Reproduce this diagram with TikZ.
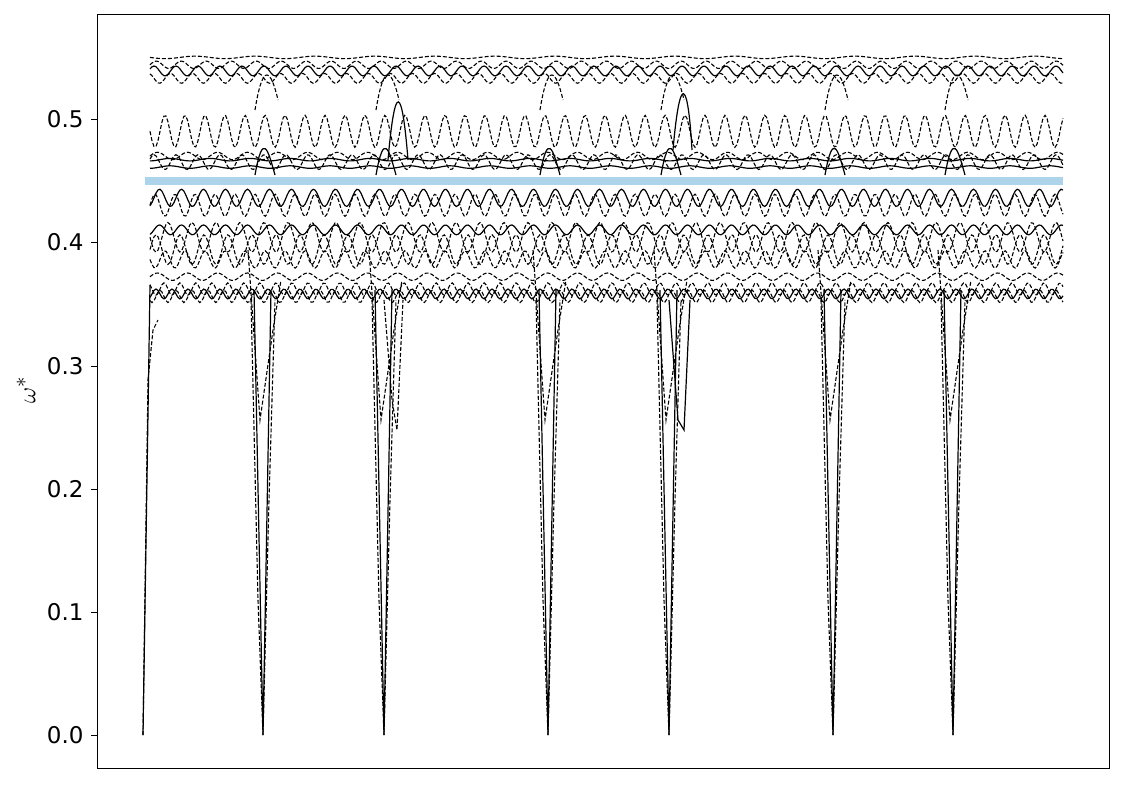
\documentclass[tikz,border=0pt]{standalone}
\usepackage{fontspec}
\setmainfont{DejaVu Sans}
\definecolor{bandc}{RGB}{174,212,236}
\begin{document}
\begin{tikzpicture}[x=1pt,y=-1pt,
  sol/.style={black,line width=1.2pt},
  dsh/.style={black,line width=1.1pt,dash pattern=on 4pt off 2pt},
  tick/.style={black,line width=0.8pt},
  lab/.style={font=\fontsize{23}{27}\selectfont,anchor=east}]
\useasboundingbox (0,0) rectangle (1125,785);
\fill[white] (0,0) rectangle (1125,785);
% band
\fill[bandc] (145,177) rectangle (1063,185);
% waves: level, amplitude, period(px), phase, style
\foreach \lv/\am/\pe/\ph/\st in {
 0.550/0.001/60/0/dsh, 0.544/0.003/25/0/dsh, 0.539/0.004/22/90/sol,
 0.533/0.004/22/180/dsh, 0.490/0.013/20/0/dsh, 0.470/0.003/30/0/dsh,
 0.465/0.006/22/90/dsh, 0.467/0.001/40/0/sol, 0.461/0.001/40/0/sol,
 0.436/0.007/22/0/sol, 0.430/0.009/20/180/dsh, 0.410/0.004/22/0/sol,
 0.404/0.012/24/90/dsh, 0.394/0.012/24/270/dsh, 0.386/0.007/20/0/dsh,
 0.372/0.003/30/0/dsh, 0.362/0.005/16/0/dsh, 0.358/0.004/16/180/sol,
 0.356/0.005/16/90/dsh}{
  \draw[\st] plot[domain=150:1063,samples=460]
    (\x,{735-1232*\lv-1232*\am*sin((360/\pe)*mod(\x,\pe)+\ph)});
}
% dips
\coordinate (d0a) at (143,735);
\draw[dsh] (d0a) -- (148,380) -- (153,330) -- (158,320);
\draw[sol] (d0a) -- (150,285);
\foreach \dx in {263,384,548,669,833,953}{
  \coordinate (t) at (\dx,735);
  \draw[sol] (\dx-9,290) -- (t) -- (\dx+8,290);
  \draw[dsh] (\dx-12,300) -- (\dx-5,600) -- (t) -- (\dx+6,500) -- (\dx+12,300);
  \draw[dsh] (\dx-15,250) -- (\dx-3,420) -- (\dx+10,330) -- (\dx+18,280);
}
\draw[sol] (669,300) -- (678,420) -- (684,430) -- (690,300);
\draw[dsh] (384,300) -- (392,400) -- (397,430) -- (403,300);
% bumps near dips in upper lines
\foreach \dx in {263,384,548,669,833,953}{
  \draw[sol] (\dx-8,175) .. controls (\dx,130) and (\dx+5,150) .. (\dx+12,175);
  \draw[dsh] (\dx-8,110) .. controls (\dx,60) and (\dx+8,70) .. (\dx+15,100);
}
\draw[sol] (388,160) .. controls (395,80) and (402,85) .. (408,160);
\draw[sol] (673,150) .. controls (680,70) and (688,80) .. (692,150);
% axes
\node[draw,black,line width=0.8pt,minimum width=1012pt,minimum height=754pt,inner sep=0pt,anchor=north west] (ax) at (97,14) {};
\foreach \v/\yy in {0.0/735,0.1/612,0.2/489,0.3/366,0.4/242,0.5/119}{
  \draw[tick] (91,\yy) -- (97,\yy);
  \node[lab] (l\yy) at (87,\yy) {\v};
}
\node[rotate=90,font=\fontsize{30}{34}\selectfont] (yl) at (26,390) {$\omega^*$};
\end{tikzpicture}
\end{document}
